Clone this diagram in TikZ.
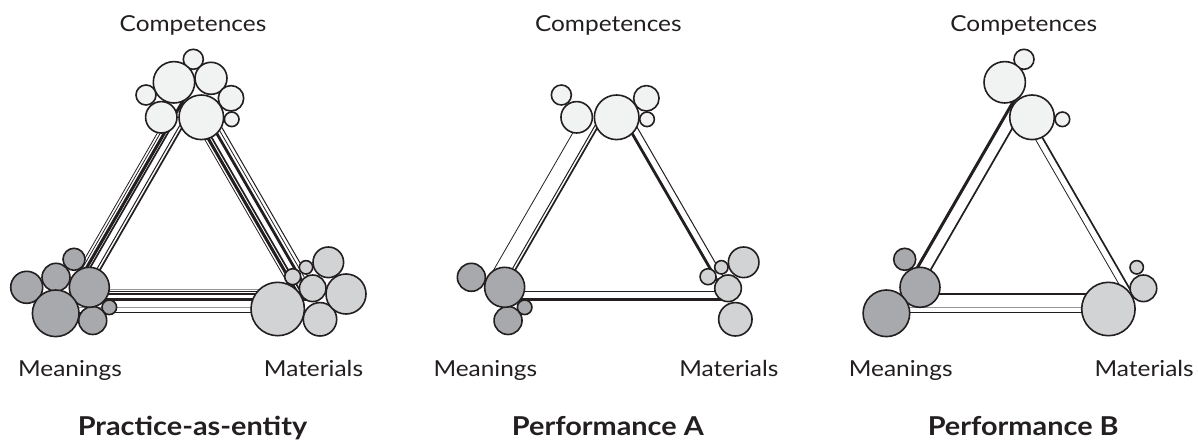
\documentclass[tikz,border=0pt]{standalone}
\usepackage{fontspec}
\setmainfont{Lato}[FakeStretch=1.11]
\usepackage{tikz}
\definecolor{ink}{HTML}{231F20}
\definecolor{compfill}{HTML}{F1F2F2}
\definecolor{meanfill}{HTML}{A7A9AC}
\definecolor{matfill}{HTML}{D1D3D4}
\definecolor{linkgray}{HTML}{939598}
\tikzset{
bubble/.style={circle, draw=ink, line width=1.6pt, inner sep=0pt, outer sep=0pt}, % one element of a practice
strand/.style={draw=ink, line cap=butt}, % one link between two elements
corner/.style={font=\fontsize{22}{26}\selectfont, text=ink, anchor=base, inner sep=0pt},
caption/.style={font=\bfseries\fontsize{26}{30}\selectfont, text=ink, anchor=base, inner sep=0pt},
}
% name/x/y/radius/fill/in panel 1/2/3
\def\bubbles{%
c1/193.3/59.3/10/compfill/1/0/1,%
c2/174/82.3/20.7/compfill/1/0/1,%
c3/211/78.3/16/compfill/1/0/0,%
c4/146/95/10/compfill/1/1/0,%
c5/231/98.3/12.7/compfill/1/1/0,%
c6/161.3/117.3/15.7/compfill/1/1/0,%
c7/201.3/117.3/22.3/compfill/1/1/1,%
c8/231.7/119.3/7.3/compfill/1/1/1,%
m1/74/259.3/11/meanfill/1/0/1,%
m2/26.7/287.3/16/meanfill/1/0/0,%
m3/56/277.3/14/meanfill/1/1/0,%
m6/109.3/307.3/7.3/meanfill/1/1/0,%
m7/92.7/320.5/14/meanfill/1/1/0,%
m4/89.3/287.3/20/meanfill/1/1/1,%
m5/55.7/313.3/23.3/meanfill/1/0/1,%
t1/277.7/309/26.7/matfill/1/0/1,%
t2/320/319.3/16.7/matfill/1/1/0,%
t3/346/294/20/matfill/1/0/0,%
t4/312.7/288.3/13.3/matfill/1/1/1,%
t5/328.3/262.3/15.3/matfill/1/1/0,%
t6/306/267.3/6.7/matfill/1/1/1,%
t7/292.7/276.7/8/matfill/1/1/0}
% name/x1/y1/x2/y2/width/colour/in panel 1/2/3
\def\strands{%
l1/164.9/120/72.5/280/0.8/ink/1/1/0,%
l2/170.8/115/74.4/282/0.8/ink/1/0/0,%
l3/186.4/95/82.4/275/3.0/ink/1/0/1,%
l4/172.5/125/83.0/280/1.7/ink/1/0/0,%
l5/182.9/120/91.7/278/1.0/ink/1/1/0,%
l6/186.4/120/95.2/278/1.7/ink/1/1/1,%
r1/196.4/125/294.5/295/0.8/ink/1/0/1,%
r2/200.4/125/298.5/295/3.0/ink/1/0/0,%
r3/204.4/125/301.4/293/1.7/ink/1/0/1,%
r4/211.9/125/304.3/285/2.8/ink/1/1/0,%
r5/216.4/125/308.8/285/0.8/ink/1/0/0,%
r6/218.7/122/312.8/285/1.0/ink/1/1/0,%
b1/89/289.3/278/289.3/0.9/linkgray/1/0/0,%
b2/89/291/312/291/1.0/ink/1/1/0,%
b3/89/294/278/294/1.6/ink/1/0/1,%
b4/89/299/312/299/3.0/ink/1/1/0,%
b5/56/307.3/278/307.3/1.6/linkgray/1/0/1,%
b6/56/312.3/278/312.3/1.6/ink/1/0/1}
% #1 panel number, #2 shift, #3 caption
\newcommand\drawpanel[3]{%
\begin{scope}[xshift=#2pt]
\foreach \nm/\xa/\ya/\xb/\yb/\lw/\lc/\pa/\pb/\pc in \strands {%
\ifcase#1\or\let\on\pa\or\let\on\pb\or\let\on\pc\fi
\ifnum\on=1
\coordinate (s#1\nm a) at (\xa,\ya);
\coordinate (s#1\nm b) at (\xb,\yb);
\draw[strand, line width=\lw pt, draw=\lc] (s#1\nm a) -- (s#1\nm b);
\fi}
\foreach \nm/\cx/\cy/\cr/\cf/\pa/\pb/\pc in \bubbles {%
\ifcase#1\or\let\on\pa\or\let\on\pb\or\let\on\pc\fi
\ifnum\on=1
\node[bubble, fill=\cf, minimum size=2*\cr pt] (p#1\nm) at (\cx,\cy) {};
\fi}
\node[corner] (comp#1) at (193,31.7) {Competences};
\node[corner] (mean#1) at (70,376) {Meanings};
\node[corner] (mat#1) at (313.5,376) {Materials};
\node[caption] (title#1) at (192.5,435) {#3};
\end{scope}}
\begin{document}
\begin{tikzpicture}[x=1pt, y=-1pt]
\useasboundingbox (0,0) rectangle (1198,441);
\drawpanel{1}{0}{Practice-as-entity}
\drawpanel{2}{415.35}{Performance A}
\drawpanel{3}{830.7}{Performance B}
\end{tikzpicture}
\end{document}
